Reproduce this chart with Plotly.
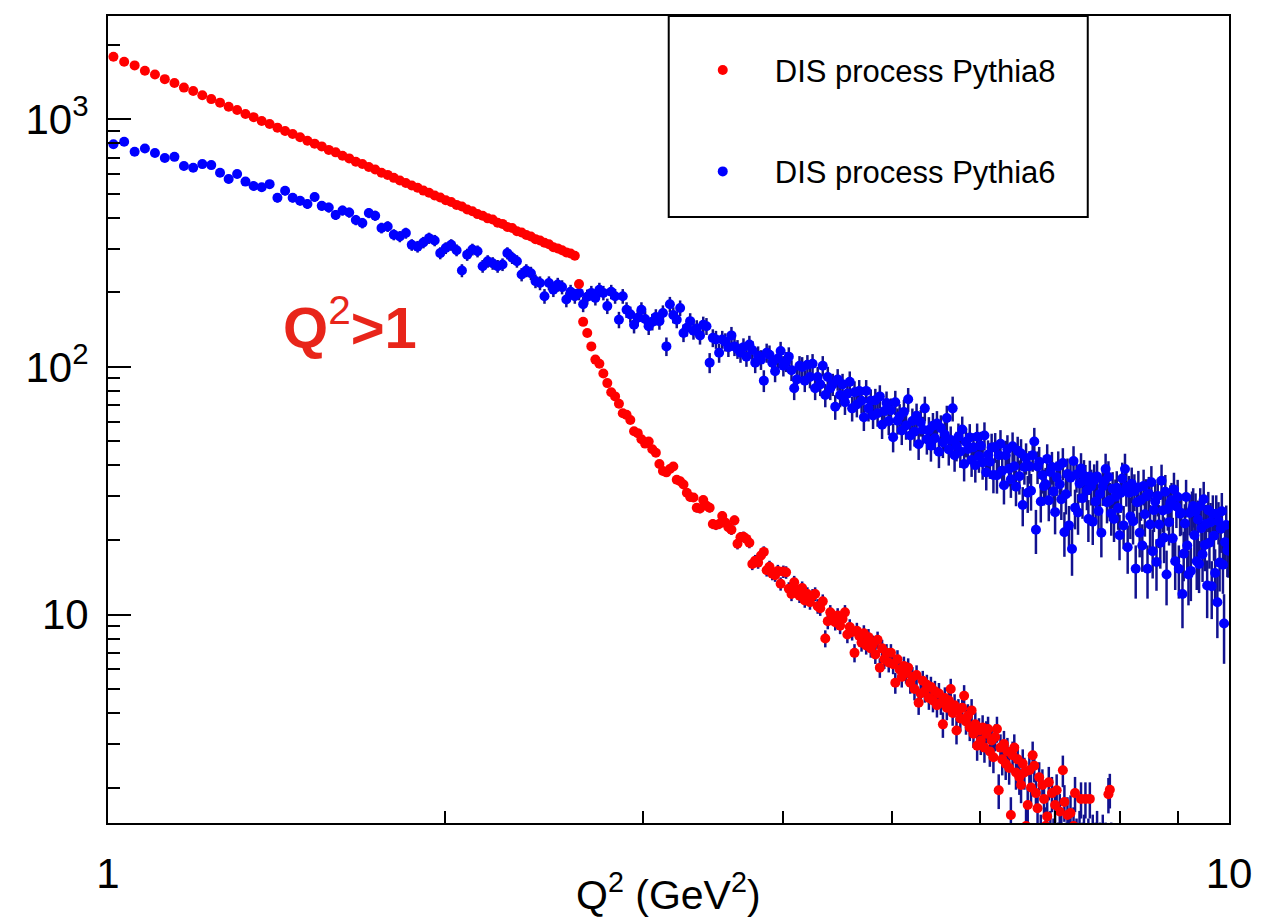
import math
import plotly.graph_objects as go

# ---------------- data ----------------
# Histogram: 400 equal bins of Q^2 between 1 and 10 GeV^2
Q2_LOW, Q2_HIGH, N_BINS = 1.0, 10.0, 400
BIN_W = (Q2_HIGH - Q2_LOW) / N_BINS

# DIS process Pythia8 (bins from Q^2 = 1 upwards; later bins are empty)
pythia8_counts = [
    1788, 1708, 1650, 1570, 1515, 1452, 1402, 1342, 1300, 1250,
    1206, 1167, 1124, 1090, 1050, 1020, 984, 957, 925, 896,
    872, 846, 819, 797, 777, 752, 735, 712, 695, 674,
    660, 641, 627, 608, 596, 580, 566, 553, 540, 529,
    515, 505, 492, 483, 471, 463, 451, 444, 432, 425,
    414, 408, 398, 394, 382, 378, 367, 364, 353, 349,
    341, 336, 328, 324, 317, 313, 304, 301, 296, 290,
    287, 281,
    216, 152, 137, 121, 107, 103, 94, 86, 79, 76,
    71, 65, 64, 61, 55, 54, 51, 49, 50, 46.5,
    45, 40.5, 38, 37.5, 38.7, 39.6, 35, 34.5, 33.5, 31,
    29.8, 29.7, 27, 26.8, 29, 27.5, 27, 23.2, 23, 23.2,
    25, 23.5, 22.5, 22, 24, 19.3, 20.5, 20.6, 20.2, 19.5,
    16, 16.5, 16.2, 17.3, 17.9, 15.1, 15.6, 14.6, 14.4, 15,
    13.3, 14.9, 14.8, 12.7, 12.1, 13.5,
    12.6, 11.9, 12.8, 11.4, 12.1, 11.2, 11.9, 12.1, 10.8, 10.6,
    11.3, 8.0, 9.4, 10.2, 9.8, 9.3, 9.9, 9.0, 9.6, 10.2,
    8.3, 8.9, 8.5, 7.0, 8.6, 8.2, 7.7, 8.4, 7.5, 8.1,
    7.3, 7.6, 6.9, 7.9, 6.1, 7.3, 6.6, 7.0, 6.4, 7.0,
    6.3, 5.3, 6.6, 6.0, 5.6, 6.2, 5.8, 6.1, 5.3, 5.6,
    5.0, 5.7, 4.4, 4.8, 5.4, 4.9, 5.2, 4.6, 5.1, 4.5,
    4.9, 4.3, 4.8, 4.4, 3.6, 4.6, 4.2, 4.5, 5.0, 4.0,
    4.3, 3.4, 4.1, 3.8, 4.2, 4.7, 3.7, 3.9, 3.5, 4.1,
    3.3, 3.6, 2.95, 3.4, 3.1, 3.5, 2.9, 3.3, 3.45, 2.8,
    3.1, 2.65, 3.2, 3.45, 1.95, 2.9, 2.6, 3.0, 2.5, 2.8,
    2.4, 1.55, 2.7, 2.9, 2.3, 2.6, 2.2, 2.05, 2.5, 2.3,
    1.4, 1.7, 2.35, 2.0, 2.7, 2.45, 1.9, 1.65, 2.2, 1.3,
    2.05, 1.8, 1.4, 1.53, 2.1, 1.35, 1.9, 1.25, 1.7, 1.95,
    1.2, 1.6, 1.3, 2.35, 1.75, 1.2, 1.55, 1.3, 1.58, 1.15,
    1.4, 1.9, 1.25, 1.1, 1.35, 1.8, 1.2, 1.3, 1.8, 1.1,
    1.25, 1.8, 1.15, 1.3, 1.05, 1.2, 1.35, 1.1, 1.2, 1.0,
    1.3, 1.1, 1.2, 1.05, 1.88, 1.96, 1.2,
]

# DIS process Pythia6
pythia6_counts = [
    793, 811, 739, 762, 731, 698, 705, 647, 637, 659,
    653, 608, 574, 601, 560, 538, 531, 547, 482, 514,
    482, 469, 455, 485, 447, 440, 411, 428, 420, 392,
    381, 418, 408, 364, 369, 342, 336, 347, 311,
    306, 318, 331, 324, 288, 302, 311, 296, 245, 284,
    298, 293, 255, 267, 262, 255, 259, 288, 276, 267,
    236, 245, 239, 222, 218, 193, 218, 205, 215, 210,
    187, 201, 193, 199, 179, 192, 199, 190, 205, 199,
    176, 201, 193, 155, 193, 170, 163, 148, 158, 170,
    156, 146, 152, 159, 153, 165, 121, 179, 162, 155,
    173, 137, 144, 153, 140, 143, 134, 148, 146, 104,
    131, 129, 114, 129, 126, 120, 134, 121, 118, 114,
    120, 110, 123, 117, 104, 111, 107, 88, 114, 112,
    104, 96, 108, 116, 101, 105, 110, 97, 82, 89, 101,
    100, 88, 102, 91, 103, 82, 91, 85, 101, 77,
    91, 82, 85, 69, 89, 77, 85, 72, 78, 87,
    68, 79, 70.5, 80, 73, 62.6, 80, 68, 73, 63.7,
    73.4, 65, 76, 58.4, 66.4, 71.5, 60.4, 66.8, 52, 72,
    60.6, 63.2, 55.4, 65.8, 58, 74, 52.8, 60.5, 54.7, 63.5,
    48.7, 59.6, 55.8, 68, 51, 55.6, 48, 57.9, 51.5, 59,
    45.4, 56.6, 49.5, 53.3, 62.2, 46.4, 50.7, 68, 44, 48.1,
    52.2, 45.5, 55.9, 40.5, 49.8, 46.6, 51.9, 42.1, 47.4, 40.1,
    52.2, 43.6, 48.1, 41.1, 52.8, 37.5, 44.2, 41.4, 47.2, 36.6,
    47.5, 36.5, 44, 48.9, 38.1, 33.3, 44, 46.5, 38.8, 35.2,
    47.8, 39.7, 32.8, 45.8, 36.2, 44.7, 27.7, 39.4, 42.9, 31,
    39.7, 31.6, 44, 50, 22, 39.6, 41.4, 28.6, 36.5, 33,
    33.6, 42.5, 28.9, 37.6, 39.4, 31.4, 25.9, 35.8, 39.6, 33.6,
    29.2, 40.9, 21.5, 30.6, 36.9, 22.9, 35.7, 18.4, 41.7, 27,
    36.8, 25.8, 33.8, 38.9, 29.5, 36.3, 34.6, 31.7, 24.3, 36.1,
    33, 23.7, 34.8, 28.6, 36.1, 26.2, 30.7, 21.4, 32.9, 34.5,
    38.7, 28.4, 35.9, 28.9, 25.6, 32.2, 24.3, 29.9, 32.5, 26.9,
    20.9, 31, 35.4, 22.9, 38.7, 32.7, 18.7, 31, 24.9, 33.7,
    23.8, 31.5, 15.3, 28.4, 32.6, 21.4, 29, 19, 33, 25.4,
    30, 15.3, 30.7, 23.1, 34.2, 18, 26.4, 28.6, 16.3, 30.1,
    23.1, 19.5, 34.7, 26.3, 20.4, 31.3, 14.5, 26.7, 23.6, 28.2,
    28.9, 20.3, 32, 16.4, 27.3, 29.8, 15.3, 25.5, 25.7, 12.1,
    17.6, 23.3, 29.8, 19, 14.5, 25.7, 15, 26.5, 27.4, 20.9,
    26, 16.4, 24.2, 16, 27.4, 22.3, 17.5, 29.2, 19.1, 23.2,
    13.1, 26.4, 19.5, 23.6, 13, 25.5, 20.8, 14.7, 25.5, 11.2,
    23.8, 16.2, 22.2, 26.1, 15.9, 9.2, 19.6, 23, 18.2, 18.1,
]

# per-event weights -> Poisson-like errors sqrt(w * content)
PYTHIA8_EVENT_WEIGHT = 0.05
PYTHIA6_EVENT_WEIGHT = 0.9

Y_TICKS = [10, 100, 1000]
Y_TICK_TEXT = ["10", "10<sup>2</sup>", "10<sup>3</sup>"]
X_TICKS = [1, 10]
X_TICK_TEXT = ["1", "10"]


def bin_centres(n):
    return [Q2_LOW + BIN_W * (i + 0.5) for i in range(n)]


x8 = bin_centres(len(pythia8_counts))
x6 = bin_centres(len(pythia6_counts))
err8 = [math.sqrt(PYTHIA8_EVENT_WEIGHT * v) for v in pythia8_counts]
err6 = [math.sqrt(PYTHIA6_EVENT_WEIGHT * v) for v in pythia6_counts]

y_minor = [m * 10 ** d for d in range(0, 4) for m in range(2, 10) if m * 10 ** d < 2600]
x_minor = list(range(2, 10))

FONT = "Liberation Sans, Arial, Helvetica, sans-serif"
ERR_COLOR = "#12128f"
MSIZE = 10

fig = go.Figure()
fig.add_trace(go.Scatter(
    x=x6, y=pythia6_counts, mode="markers", name="DIS process Pythia6",
    legendgroup="p6", legendrank=2,
    marker=dict(color="#0000ff", size=MSIZE),
    error_y=dict(type="data", array=err6, color=ERR_COLOR, thickness=2.5, width=0),
))
fig.add_trace(go.Scatter(
    x=x8, y=pythia8_counts, mode="markers", name="DIS process Pythia8",
    legendgroup="p8", legendrank=1,
    marker=dict(color="#ff0000", size=MSIZE),
    error_y=dict(type="data", array=err8, color=ERR_COLOR, thickness=2.5, width=0),
))

axis_common = dict(
    type="log", showline=True, mirror=True, linecolor="black", linewidth=2,
    showgrid=False, zeroline=False, ticks="inside", tickwidth=2, tickcolor="black",
    tickmode="array", automargin=False,
    tickfont=dict(family=FONT, size=42, color="black"),
)

# legend frame (paper coordinates of the plot area)
LEG_X0, LEG_X1, LEG_Y0, LEG_Y1 = 0.5002, 0.874, 0.7508, 1.0

fig.update_layout(
    width=1258, height=910,
    margin=dict(l=100, r=37, t=8, b=95),
    paper_bgcolor="white", plot_bgcolor="white",
    font=dict(family=FONT, color="black"),
    xaxis=dict(
        axis_common, range=[0, 1], tickvals=X_TICKS, ticktext=X_TICK_TEXT,
        ticklen=23, ticklabelstandoff=13,
        minor=dict(tickmode="array", tickvals=x_minor, ticks="inside", ticklen=12,
                   tickwidth=2, tickcolor="black", showgrid=False),
    ),
    yaxis=dict(
        axis_common, range=[0.158, 3.417], tickvals=Y_TICKS, ticktext=Y_TICK_TEXT,
        ticklen=23, ticklabelstandoff=9,
        minor=dict(tickmode="array", tickvals=y_minor, ticks="inside", ticklen=12,
                   tickwidth=2, tickcolor="black", showgrid=False),
    ),
    legend=dict(
        x=0.502, y=0.966, xanchor="left", yanchor="top",
        borderwidth=0, bgcolor="rgba(0,0,0,0)",
        font=dict(family=FONT, size=31, color="black"),
        itemwidth=94, tracegroupgap=58,
    ),
    shapes=[
        dict(type="rect", xref="paper", yref="paper",
             x0=LEG_X0, x1=LEG_X1, y0=LEG_Y0, y1=LEG_Y1,
             line=dict(color="black", width=2), fillcolor="white", layer="below"),
    ],
    annotations=[
        dict(text="<b>Q</b><sup>2</sup><b>&gt;1</b>", xref="paper", yref="paper",
             x=0.2156, y=0.6195, xanchor="center", yanchor="middle", showarrow=False,
             font=dict(family=FONT, size=58, color="#e8251a")),
        dict(text="Q<sup>2</sup> (GeV<sup>2</sup>)", xref="paper", yref="paper",
             x=0.5, y=-0.086, xanchor="center", yanchor="middle", showarrow=False,
             font=dict(family=FONT, size=41, color="black")),
    ],
    showlegend=True,
)

fig.write_html("out.html")
